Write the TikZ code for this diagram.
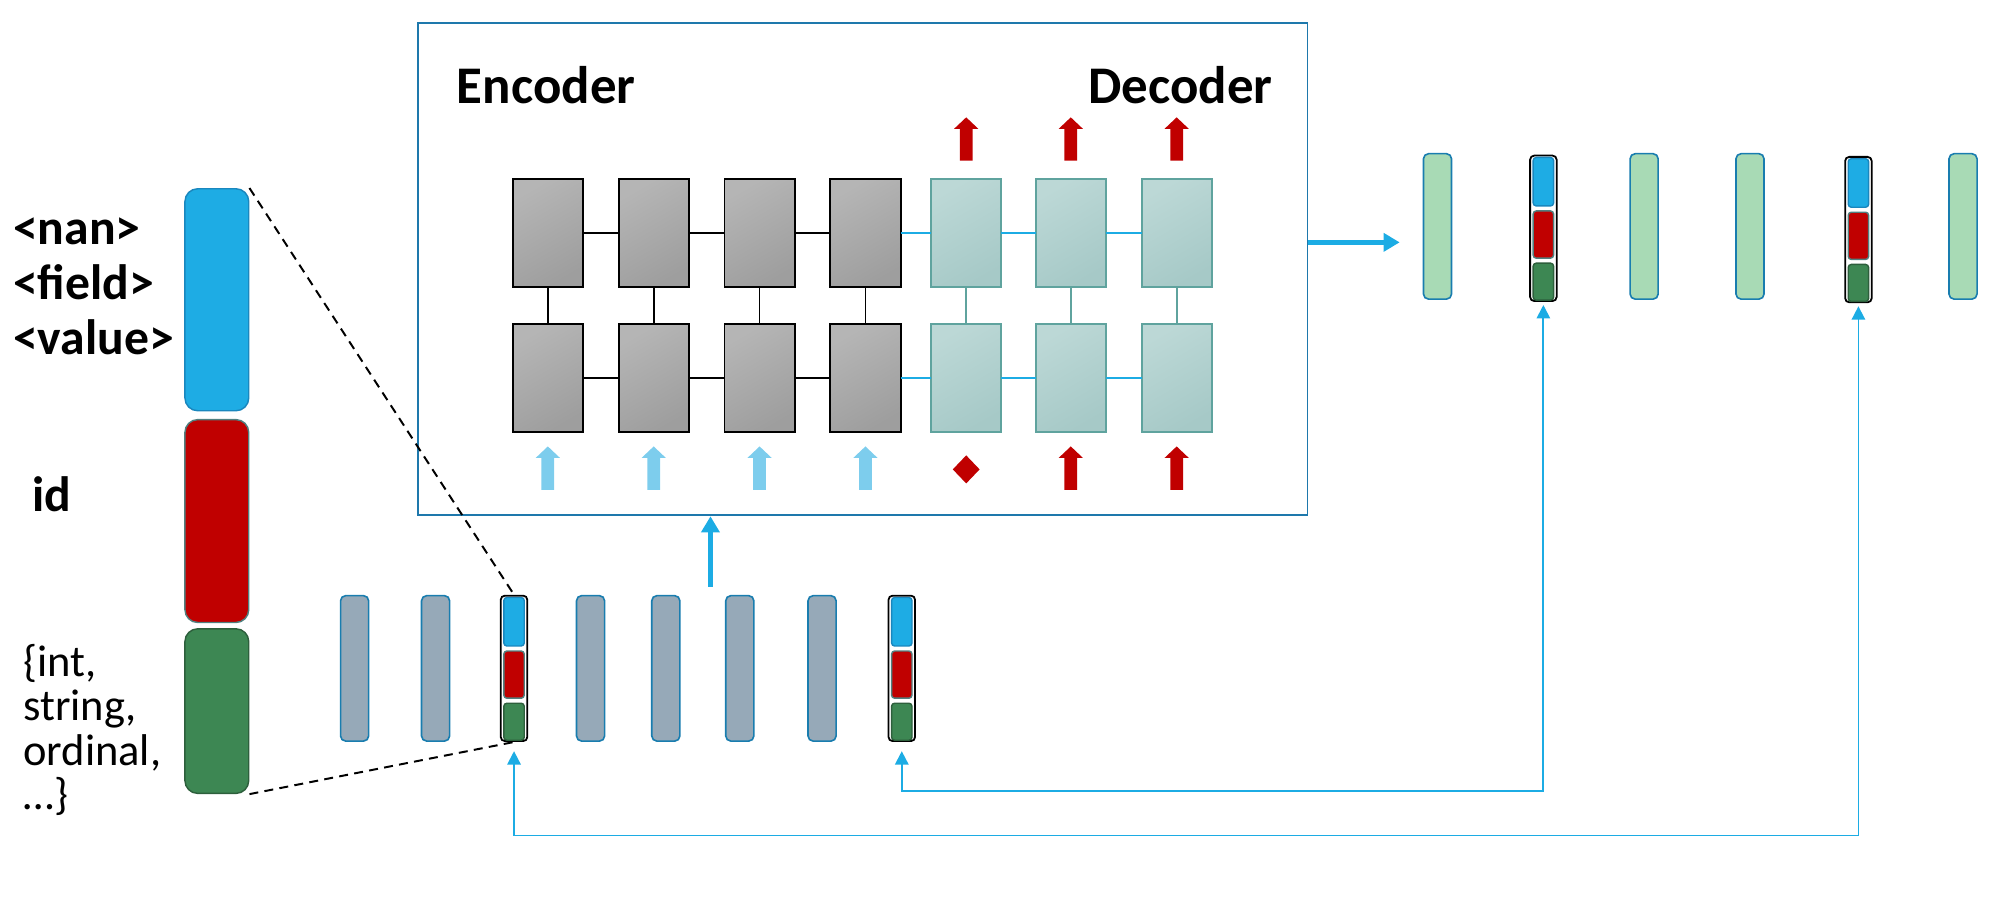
\documentclass[tikz,border=0pt]{standalone}
\usepackage{fontspec}
\setmainfont{Carlito}
\usetikzlibrary{arrows.meta}

\definecolor{boxline}{RGB}{30,120,172}
\definecolor{linkblue}{RGB}{28,172,228}
\definecolor{inblue}{RGB}{125,205,237}
\definecolor{featblue}{RGB}{30,172,228}
\definecolor{featblueline}{RGB}{26,135,190}
\definecolor{featred}{RGB}{192,0,0}
\definecolor{featredline}{RGB}{80,128,128}
\definecolor{featgreen}{RGB}{61,135,83}
\definecolor{featgreenline}{RGB}{45,95,60}
\definecolor{vecgray}{RGB}{150,169,184}
\definecolor{vecgreen}{RGB}{168,218,181}
\definecolor{vecline}{RGB}{25,125,175}
\definecolor{decline}{RGB}{95,163,158}

\tikzset{
  pics/blockup/.style={code={
    \fill[pic actions] (-5,0) -- (-5,-25) -- (-9.5,-25) -- (0,-34) -- (9.5,-25) -- (5,-25) -- (5,0) -- cycle;
  }}
}

% one slot vector: outer frame with three parts
\newcommand{\featvec}[3]{%
  \node[featbox] (#1) at (#2,#3) {};
  \node[featpart, fill=featblue, draw=featblueline, minimum height=0.95cm, anchor=north] (#1b) at ([yshift=-0.04cm]#1.north) {};
  \node[featpart, fill=featred, draw=featredline, minimum height=0.925cm, anchor=north] (#1r) at ([yshift=-0.07cm]#1b.south) {};
  \node[featpart, fill=featgreen, draw=featgreenline, minimum height=0.725cm, anchor=north] (#1g) at ([yshift=-0.07cm]#1r.south) {};
}

\begin{document}
\begin{tikzpicture}[x=0.025cm, y=-0.025cm,
  enc/.style={draw=black, line width=1.1pt, top color=gray!58, bottom color=gray!76, shading angle=30,
    minimum width=1.375cm, minimum height=2.125cm, inner sep=0pt, outer sep=0pt},
  dec/.style={draw=decline, line width=1.1pt, top color={rgb,255:red,188;green,216;blue,214}, bottom color={rgb,255:red,166;green,201;blue,199}, shading angle=30,
    minimum width=1.375cm, minimum height=2.125cm, inner sep=0pt, outer sep=0pt},
  encline/.style={draw=black, line width=1pt},
  declink/.style={draw=linkblue, line width=1pt},
  decvert/.style={draw=decline, line width=1pt},
  vec/.style={draw=vecline, line width=0.9pt, rounded corners=0.1cm, minimum width=0.55cm, minimum height=2.85cm, inner sep=0pt},
  featbox/.style={draw=black, line width=1pt, fill=white, rounded corners=0.08cm, minimum width=0.52cm, minimum height=2.85cm, inner sep=0pt},
  featpart/.style={line width=0.8pt, rounded corners=0.06cm, minimum width=0.4cm, inner sep=0pt},
  emb/.style={line width=0.8pt, rounded corners=0.25cm, minimum width=1.25cm, inner sep=0pt},
  lab/.style={font=\bfseries\fontsize{27.7}{30}\selectfont, anchor=base west, inner sep=0pt},
  kind/.style={font=\fontsize{24.8}{26}\selectfont, anchor=base west, inner sep=0pt},
  zoomline/.style={line width=1.1pt, dash pattern=on 5pt off 3.5pt},
  link/.style={draw=linkblue, line width=1pt, arrows={Triangle[width=7.5pt,length=7.5pt]-Triangle[width=7.5pt,length=7.5pt]}},
  bigarrow/.style={draw=linkblue, line width=2.8pt, arrows={-Triangle[width=10pt,length=9pt]}}]
  \useasboundingbox (0,0) rectangle (1568,705);

  % model box
  \node[draw=boxline, line width=1pt, minimum width=17.425cm, minimum height=9.65cm, inner sep=0pt] (model) at (676.5,211) {};
  \node[font=\bfseries\fontsize{29.5}{32}\selectfont, anchor=base west, inner sep=0pt] (enclab) at (358,81) {Encoder};
  \node[font=\bfseries\fontsize{29.5}{32}\selectfont, anchor=base east, inner sep=0pt] (declab) at (998,81) {Decoder};

  % encoder cells
  \foreach \i/\x in {1/429.5,2/512.5,3/595.5,4/678.5} {
    \node[enc] (enct\i) at (\x,182.5) {};
    \node[enc] (encb\i) at (\x,296.5) {};
    \draw[encline] (enct\i) -- (encb\i);
    \pic[fill=inblue] at (\x,384) {blockup};
  }
  \foreach \i/\j in {1/2,2/3,3/4} {
    \draw[encline] (enct\i) -- (enct\j);
    \draw[encline] (encb\i) -- (encb\j);
  }

  % decoder cells
  \foreach \i/\x in {1/757.5,2/839.5,3/922.5} {
    \node[dec] (dect\i) at (\x,182.5) {};
    \node[dec] (decb\i) at (\x,296.5) {};
    \draw[decvert] (dect\i) -- (decb\i);
    \pic[fill=featred] at (\x,126) {blockup};
  }
  \foreach \i/\j in {1/2,2/3} {
    \draw[declink] (dect\i) -- (dect\j);
    \draw[declink] (decb\i) -- (decb\j);
  }
  \draw[declink] (enct4) -- (dect1);
  \draw[declink] (encb4) -- (decb1);
  \fill[featred] (757.5,357) -- (768,368) -- (757.5,379) -- (747,368) -- cycle;
  \pic[fill=featred] at (839.5,384) {blockup};
  \pic[fill=featred] at (922.5,384) {blockup};

  % input vectors
  \foreach \i/\x in {1/278,2/341.5,4/463,5/522,6/580,7/644.5}
    \node[vec, fill=vecgray] (vin\i) at (\x,524) {};
  \featvec{vin3}{403}{524}
  \featvec{vin8}{707}{524}

  % output vectors
  \foreach \i/\x in {1/1127,3/1289,4/1372,6/1539}
    \node[vec, fill=vecgreen] (outv\i) at (\x,177.5) {};
  \featvec{outv2}{1210}{179}
  \featvec{outv5}{1457}{180}

  % embedding parts
  \node[emb, fill=featblue, draw=featblueline, minimum height=4.35cm] (embblue) at (170,235) {};
  \node[emb, fill=featred, draw=featredline, minimum height=3.975cm] (embred) at (170,408.5) {};
  \node[emb, fill=featgreen, draw=featgreenline, minimum height=3.225cm] (embgreen) at (170,557.5) {};

  \node[lab] (tnan) at (10,192) {<nan>};
  \node[lab] (tfield) at (10,235) {<field>};
  \node[lab] (tvalue) at (10,278) {<value>};
  \node[lab] (tid) at (25,401) {id};
  \node[kind] (tint) at (18,530) {\{int,};
  \node[kind] (tstr) at (18,565) {string,};
  \node[kind] (tord) at (18,600) {ordinal,};
  \node[kind] (tdots) at (18,635) {\ldots\}};

  \draw[zoomline] (embblue.north east) -- (vin3.north);
  \draw[zoomline] (embgreen.south east) -- (vin3.south);

  % flow
  \coordinate (midin) at (557,460);
  \draw[bigarrow] (midin) -- (midin |- model.south);
  \draw[bigarrow, shorten >=0.45cm] (model.east |- 0,190) -- (outv1.west |- 0,190);

  \draw[link, shorten <=0.18cm, shorten >=0.06cm] (vin8.south) -- (vin8.south |- 0,620) -- (outv2.south |- 0,620) -- (outv2.south);
  \draw[link, shorten <=0.18cm, shorten >=0.06cm] (vin3.south) -- (vin3.south |- 0,655) -- (outv5.south |- 0,655) -- (outv5.south);
\end{tikzpicture}
\end{document}
